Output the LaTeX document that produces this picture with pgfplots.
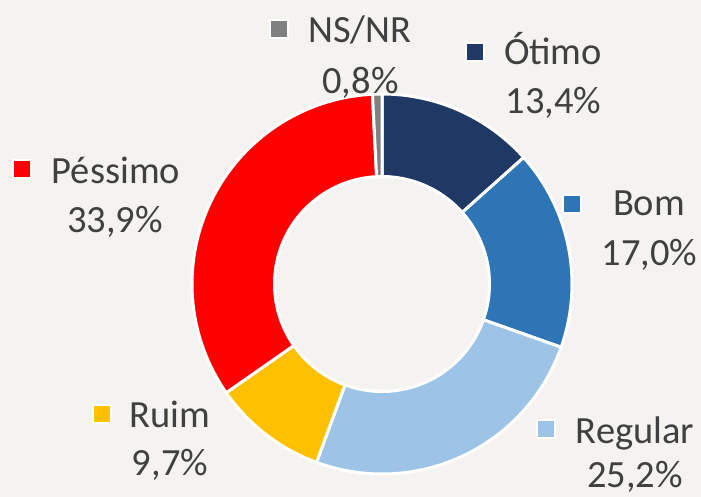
\documentclass[border=0pt]{standalone}
\usepackage{pgfplots}
\usepackage{pgfplotstable}
\pgfplotsset{compat=1.18}
\usepackage{fontspec}
\setmainfont{Carlito}

\definecolor{bgc}{RGB}{244,243,240}
\definecolor{txt}{RGB}{64,64,64}
\definecolor{otimo}{RGB}{31,56,100}
\definecolor{bom}{RGB}{46,117,182}
\definecolor{regular}{RGB}{157,195,230}
\definecolor{ruim}{RGB}{255,192,0}
\definecolor{pessimo}{RGB}{255,0,0}
\definecolor{nsnr}{RGB}{128,128,128}

\pgfplotstableread{
category value
Otimo    13.4
Bom      17.0
Regular  25.2
Ruim     9.7
Pessimo  33.9
NSNR     0.8
}\donutdata

% ring slice: #1 start angle, #2 end angle, #3 colour (centre 382,284; radii 190 / 107.5 px)
\newcommand\donutslice[3]{%
  \addplot[fill=#3, draw=white, line width=3bp, line join=round,
           domain=0:3, samples=241, variable=\t]
  ({382 + (190 - 82.5*min(max(\t-1,0),1))*cos((#1) + ((#2)-(#1))*min(\t,1) - ((#2)-(#1))*max(\t-2,0))},
   {284 - (190 - 82.5*min(max(\t-1,0),1))*sin((#1) + ((#2)-(#1))*min(\t,1) - ((#2)-(#1))*max(\t-2,0))}) -- cycle;
}

\begin{document}%
\begin{tikzpicture}[font=\fontsize{38.5bp}{46bp}\selectfont,
  mk/.style={draw=white, line width=2bp, minimum size=18bp, inner sep=0pt},
  lb/.style={anchor=base, text=txt, inner sep=0pt}]
\pgfplotstablegetelem{0}{value}\of\donutdata \pgfmathsetmacro\cA{\pgfplotsretval}
\pgfplotstablegetelem{1}{value}\of\donutdata \pgfmathsetmacro\cB{\cA+\pgfplotsretval}
\pgfplotstablegetelem{2}{value}\of\donutdata \pgfmathsetmacro\cC{\cB+\pgfplotsretval}
\pgfplotstablegetelem{3}{value}\of\donutdata \pgfmathsetmacro\cD{\cC+\pgfplotsretval}
\pgfplotstablegetelem{4}{value}\of\donutdata \pgfmathsetmacro\cE{\cD+\pgfplotsretval}
\pgfplotstablegetelem{5}{value}\of\donutdata \pgfmathsetmacro\cF{\cE+\pgfplotsretval}
\begin{axis}[
  width=701bp, height=497bp, scale only axis,
  xmin=0, xmax=701, ymin=0, ymax=497, y dir=reverse,
  hide axis, clip=false,
]
\fill[bgc] (axis cs:0,0) rectangle (axis cs:701,497);

\donutslice{90}{90-3.6*\cA}{otimo}
\donutslice{90-3.6*\cA}{90-3.6*\cB}{bom}
\donutslice{90-3.6*\cB}{90-3.6*\cC}{regular}
\donutslice{90-3.6*\cC}{90-3.6*\cD}{ruim}
\donutslice{90-3.6*\cD}{90-3.6*\cE}{pessimo}
\donutslice{90-3.6*\cE}{90-3.6*\cF}{nsnr}

% data labels
\node[mk, fill=nsnr] at (axis cs:279,29) {};
\node[lb] at (axis cs:360,43) {NS/NR};
\node[lb] at (axis cs:360.5,93) {0,8\%};

\node[mk, fill=otimo] at (axis cs:475,52) {};
\node[lb] at (axis cs:553,65) {Ótimo};
\node[lb] at (axis cs:553.5,113) {13,4\%};

\node[mk, fill=bom] at (axis cs:571.5,203.5) {};
\node[lb] at (axis cs:649,215) {Bom};
\node[lb] at (axis cs:649.5,265) {17,0\%};

\node[mk, fill=regular] at (axis cs:546,429) {};
\node[lb] at (axis cs:635,443) {Regular};
\node[lb] at (axis cs:635,487) {25,2\%};

\node[mk, fill=ruim] at (axis cs:101.5,414) {};
\node[lb] at (axis cs:170,427) {Ruim};
\node[lb] at (axis cs:170,475) {9,7\%};

\node[mk, fill=pessimo] at (axis cs:22,169) {};
\node[lb] at (axis cs:116,183) {Péssimo};
\node[lb] at (axis cs:115,232) {33,9\%};
\end{axis}
\pgfresetboundingbox
\path[use as bounding box] (current axis.south west) rectangle (current axis.north east);
\end{tikzpicture}%
\end{document}
